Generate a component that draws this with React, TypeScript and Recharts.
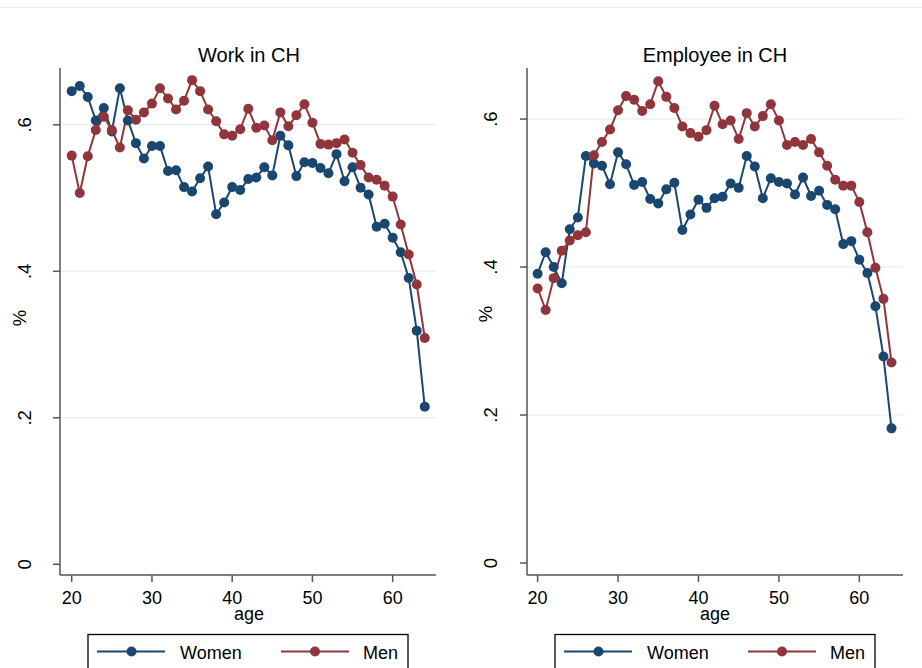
import React from 'react';
import { LineChart, Line, XAxis, YAxis, ReferenceLine } from 'recharts';

// age 20..64
const AGES = [
  20, 21, 22, 23, 24, 25, 26, 27, 28, 29, 30, 31, 32, 33, 34, 35, 36, 37, 38, 39, 40, 41,
  42, 43, 44, 45, 46, 47, 48, 49, 50, 51, 52, 53, 54, 55, 56, 57, 58, 59, 60, 61, 62, 63, 64,
];

// Work in CH
const WORK_WOMEN = [
  0.646, 0.653, 0.638, 0.606, 0.623, 0.591, 0.650, 0.606, 0.575, 0.554, 0.571, 0.571, 0.537,
  0.538, 0.515, 0.509, 0.527, 0.543, 0.478, 0.494, 0.515, 0.511, 0.526, 0.528, 0.542, 0.531,
  0.585, 0.572, 0.530, 0.549, 0.548, 0.541, 0.534, 0.560, 0.523, 0.542, 0.514, 0.505, 0.461,
  0.465, 0.446, 0.426, 0.391, 0.319, 0.215,
];
const WORK_MEN = [
  0.558, 0.507, 0.557, 0.593, 0.611, 0.593, 0.569, 0.620, 0.607, 0.617, 0.629, 0.650, 0.636,
  0.621, 0.633, 0.661, 0.646, 0.621, 0.605, 0.587, 0.585, 0.594, 0.622, 0.596, 0.599, 0.579,
  0.617, 0.598, 0.613, 0.628, 0.603, 0.574, 0.573, 0.575, 0.580, 0.562, 0.545, 0.528, 0.525,
  0.517, 0.502, 0.464, 0.423, 0.382, 0.309,
];

// Employee in CH
const EMP_WOMEN = [
  0.391, 0.420, 0.400, 0.378, 0.451, 0.467, 0.550, 0.540, 0.537, 0.512, 0.555, 0.539, 0.511,
  0.515, 0.492, 0.486, 0.505, 0.514, 0.450, 0.471, 0.491, 0.480, 0.493, 0.495, 0.513, 0.507,
  0.550, 0.536, 0.493, 0.520, 0.515, 0.513, 0.498, 0.521, 0.496, 0.503, 0.484, 0.478, 0.431,
  0.435, 0.410, 0.392, 0.347, 0.279, 0.182,
];
const EMP_MEN = [
  0.371, 0.342, 0.385, 0.422, 0.436, 0.443, 0.447, 0.551, 0.569, 0.586, 0.612, 0.631, 0.626,
  0.611, 0.620, 0.651, 0.630, 0.615, 0.590, 0.581, 0.576, 0.585, 0.618, 0.593, 0.598, 0.573,
  0.608, 0.590, 0.604, 0.620, 0.598, 0.565, 0.569, 0.565, 0.573, 0.555, 0.537, 0.518, 0.510,
  0.510, 0.488, 0.447, 0.399, 0.357, 0.271,
];

const X_TICKS = [20, 30, 40, 50, 60];
const Y_TICKS = [0, 0.2, 0.4, 0.6];
const GRID_VALUES = [0.2, 0.4, 0.6];

const BLUE = '#1a476f';
const RED = '#90353b';
const FONT = '"Liberation Sans", Arial, sans-serif';

const workData = AGES.map((age, i) => ({ age, women: WORK_WOMEN[i], men: WORK_MEN[i] }));
const empData = AGES.map((age, i) => ({ age, women: EMP_WOMEN[i], men: EMP_MEN[i] }));

const fmtY = (v: number) => (v === 0 ? '0' : String(v).replace(/^0/, ''));

const makeYTick = (bx: number) => (props: any) => {
  const { y, payload } = props;
  return (
    <text
      x={bx}
      y={y}
      transform={`rotate(-90 ${bx} ${y})`}
      textAnchor="middle"
      fontSize={18.5}
      fontFamily={FONT}
      fill="#000"
    >
      {fmtY(payload.value)}
    </text>
  );
};

interface PanelProps {
  data: { age: number; women: number; men: number }[];
  left: number;
  yWidth: number;
  rightMargin: number;
  xDomain: [number, number];
  yDomain: [number, number];
  tickX: number;
}

const Panel = ({ data, left, yWidth, rightMargin, xDomain, yDomain, tickX }: PanelProps) => (
  <div style={{ position: 'absolute', left, top: 0 }}>
    <LineChart
      width={461}
      height={668}
      data={data}
      margin={{ top: 68, right: rightMargin, bottom: 0, left: 0 }}
    >
      {GRID_VALUES.map((v) => (
        <ReferenceLine key={v} y={v} stroke="#eaf0f3" strokeWidth={1.5} ifOverflow="hidden" />
      ))}
      <XAxis
        dataKey="age"
        type="number"
        domain={xDomain}
        ticks={X_TICKS}
        height={93}
        allowDataOverflow
        tickSize={7}
        tickMargin={9}
        axisLine={{ stroke: '#555', strokeWidth: 1.5 }}
        tickLine={{ stroke: '#555', strokeWidth: 1.5 }}
        tick={{ fill: '#000', fontSize: 18, fontFamily: FONT }}
      />
      <YAxis
        type="number"
        domain={yDomain}
        ticks={Y_TICKS}
        width={yWidth}
        allowDataOverflow
        tickSize={7}
        axisLine={{ stroke: '#555', strokeWidth: 1.5 }}
        tickLine={{ stroke: '#555', strokeWidth: 1.5 }}
        tick={makeYTick(tickX)}
      />
      <Line
        type="linear"
        dataKey="women"
        stroke={BLUE}
        strokeWidth={2}
        dot={{ r: 5, fill: BLUE, stroke: BLUE, strokeWidth: 0 }}
        activeDot={false}
        isAnimationActive={false}
      />
      <Line
        type="linear"
        dataKey="men"
        stroke={RED}
        strokeWidth={2}
        dot={{ r: 5, fill: RED, stroke: RED, strokeWidth: 0 }}
        activeDot={false}
        isAnimationActive={false}
      />
    </LineChart>
  </div>
);

const LegendBox = ({ x }: { x: number }) => (
  <g>
    <rect x={x} y={634.5} width={320} height={60} fill="#fff" stroke="#000" strokeWidth={1.3} />
    <line x1={x + 9} x2={x + 77} y1={651.5} y2={651.5} stroke={BLUE} strokeWidth={1.8} />
    <circle cx={x + 43.5} cy={651.5} r={5} fill={BLUE} />
    <text x={x + 92} y={659} fontSize={18} fontFamily={FONT} fill="#000">
      Women
    </text>
    <line x1={x + 193} x2={x + 261} y1={651.5} y2={651.5} stroke={RED} strokeWidth={1.8} />
    <circle cx={x + 227} cy={651.5} r={5} fill={RED} />
    <text x={x + 275} y={659} fontSize={18} fontFamily={FONT} fill="#000">
      Men
    </text>
  </g>
);

const App = () => {
  return (
    <div
      style={{
        position: 'absolute',
        left: 0,
        top: 0,
        width: 922,
        height: 668,
        overflow: 'hidden',
        background: '#fff',
        fontFamily: FONT,
      }}
    >
      <Panel
        data={workData}
        left={0}
        yWidth={60}
        rightMargin={25}
        xDomain={[18.54, 65.4]}
        yDomain={[-0.0146, 0.6776]}
        tickX={31.5}
      />
      <Panel
        data={empData}
        left={461}
        yWidth={66}
        rightMargin={19}
        xDomain={[18.68, 65.43]}
        yDomain={[-0.0162, 0.669]}
        tickX={36}
      />

      {/* titles, axis titles, legends */}
      <svg
        width={922}
        height={668}
        style={{ position: 'absolute', left: 0, top: 0, pointerEvents: 'none' }}
      >
        <line x1={0} x2={922} y1={7.5} y2={7.5} stroke="#ececec" strokeWidth={1} />
        <text x={249} y={62} textAnchor="middle" fontSize={20} fontFamily={FONT} fill="#000">
          Work in CH
        </text>
        <text x={715} y={62} textAnchor="middle" fontSize={20} fontFamily={FONT} fill="#000">
          Employee in CH
        </text>
        <text x={249} y={620} textAnchor="middle" fontSize={18} fontFamily={FONT} fill="#000">
          age
        </text>
        <text x={715} y={620} textAnchor="middle" fontSize={18} fontFamily={FONT} fill="#000">
          age
        </text>
        <text
          x={26}
          y={318}
          transform="rotate(-90 26 318)"
          textAnchor="middle"
          fontSize={18.5}
          fontFamily={FONT}
          fill="#000"
        >
          %
        </text>
        <text
          x={492}
          y={314}
          transform="rotate(-90 492 314)"
          textAnchor="middle"
          fontSize={18.5}
          fontFamily={FONT}
          fill="#000"
        >
          %
        </text>
        <LegendBox x={88} />
        <LegendBox x={555} />
      </svg>
    </div>
  );
};

export default App;
